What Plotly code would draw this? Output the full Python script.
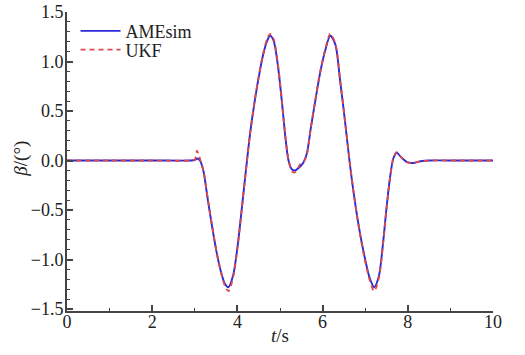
import plotly.graph_objects as go

t_ame = [0, 1.0, 2.0, 2.9, 3.00, 3.06, 3.12, 3.20, 3.30, 3.40, 3.50, 3.60, 3.70, 3.79, 3.90, 4.00, 4.10, 4.20,
         4.30, 4.40, 4.50, 4.60, 4.70, 4.77, 4.85, 4.95, 5.05, 5.12, 5.20, 5.28, 5.35, 5.45, 5.55,
         5.63, 5.72, 5.82, 5.94, 6.06, 6.18, 6.30, 6.41, 6.53, 6.63, 6.74, 6.86, 6.98,
         7.10, 7.21, 7.32, 7.42, 7.50, 7.58, 7.66, 7.74, 7.85, 8.00, 8.12, 8.30, 8.50, 9.2, 10]
b_ame = [0, 0, 0, 0, 0.005, 0.02, 0.0, -0.10, -0.38, -0.65, -0.90, -1.10, -1.24, -1.28, -1.16, -0.88, -0.50, -0.10,
         0.28, 0.58, 0.84, 1.06, 1.21, 1.26, 1.21, 0.96, 0.57, 0.26, 0.0, -0.09, -0.10, -0.07, -0.02,
         0.07, 0.32, 0.58, 0.88, 1.11, 1.26, 1.17, 0.81, 0.38, 0.0, -0.36, -0.69, -0.96,
         -1.18, -1.28, -1.17, -0.83, -0.48, -0.18, 0.02, 0.078, 0.03, -0.02, -0.025, -0.008, 0, 0, 0]

t_ukf = [0, 1.0, 2.0, 2.9, 3.00, 3.05, 3.09, 3.14, 3.21, 3.31, 3.41, 3.51, 3.61, 3.71, 3.79, 3.90, 4.00, 4.10, 4.20,
         4.30, 4.40, 4.50, 4.60, 4.70, 4.77, 4.85, 4.95, 5.05, 5.12, 5.20, 5.28, 5.35, 5.41, 5.47, 5.55,
         5.63, 5.72, 5.82, 5.94, 6.06, 6.18, 6.30, 6.41, 6.53, 6.63, 6.74, 6.86, 6.98,
         7.10, 7.21, 7.32, 7.42, 7.50, 7.58, 7.66, 7.74, 7.85, 8.00, 8.12, 8.30, 8.50, 9.2, 10]
b_ukf = [0, 0, 0, 0, 0.01, 0.10, 0.06, -0.01, -0.12, -0.40, -0.67, -0.92, -1.12, -1.27, -1.32, -1.18, -0.89, -0.50, -0.10,
         0.28, 0.59, 0.85, 1.07, 1.23, 1.28, 1.23, 0.98, 0.58, 0.27, 0.01, -0.11, -0.12, -0.09, -0.04, -0.02,
         0.06, 0.32, 0.59, 0.89, 1.12, 1.28, 1.18, 0.82, 0.39, 0.01, -0.36, -0.70, -0.98,
         -1.20, -1.32, -1.19, -0.84, -0.49, -0.19, 0.02, 0.085, 0.03, -0.02, -0.025, -0.008, 0, 0, 0]

x_ticks = [0, 2, 4, 6, 8, 10]
y_ticks = [-1.5, -1.0, -0.5, 0.0, 0.5, 1.0, 1.5]
y_tick_text = ["\u22121.5", "\u22121.0", "\u22120.5", "0.0", "0.5", "1.0", "1.5"]

SERIF = "Times New Roman, Liberation Serif, serif"
TXT = "#222222"

fig = go.Figure()
fig.add_trace(go.Scatter(x=t_ame, y=b_ame, mode="lines", name="AMEsim", legend="legend",
                         line=dict(color="#2a2ad8", width=1.9, shape="spline", smoothing=0.8)))
fig.add_trace(go.Scatter(x=t_ukf, y=b_ukf, mode="lines", name="UKF", legend="legend2",
                         line=dict(color="#e04848", width=1.8, dash="5px,4px", shape="spline", smoothing=0.8)))

axis_common = dict(showline=True, linecolor="#444444", linewidth=2, showgrid=False, zeroline=False,
                   ticks="inside", ticklen=6, tickwidth=1.5, tickcolor="#444444", automargin=False,
                   tickfont=dict(family=SERIF, size=18, color=TXT))

fig.update_xaxes(range=[0, 10], tickvals=x_ticks, ticktext=[str(v) for v in x_ticks],
                 minor=dict(ticks="inside", ticklen=3, tickwidth=1.2, tickcolor="#444444", dtick=1),
                 ticklabelstandoff=-7,
                 **axis_common)
fig.update_yaxes(range=[-1.52, 1.5], tickvals=y_ticks, ticktext=y_tick_text,
                 minor=dict(ticks="inside", ticklen=3, tickwidth=1.2, tickcolor="#444444", dtick=0.1),
                 ticklabelstandoff=-2,
                 **axis_common)

fig.add_annotation(text="<i>t</i>/s", xref="paper", yref="paper", x=0.5, y=-0.082,
                   xanchor="center", yanchor="middle", showarrow=False,
                   font=dict(family=SERIF, size=19, color=TXT))
fig.add_annotation(text="<i>β</i>/(°)", xref="paper", yref="paper", x=-0.110, y=0.51,
                   xanchor="center", yanchor="middle", showarrow=False, textangle=-90,
                   font=dict(family=SERIF, size=19, color=TXT))

leg_common = dict(xanchor="left", yanchor="middle", bgcolor="rgba(0,0,0,0)",
                  font=dict(family=SERIF, size=18, color=TXT), itemwidth=40)

fig.update_layout(width=525, height=355, margin=dict(l=67, r=32, t=12, b=44, autoexpand=False),
                  paper_bgcolor="white", plot_bgcolor="white",
                  legend=dict(x=0.02, y=0.936, **leg_common),
                  legend2=dict(x=0.02, y=0.873, **leg_common),
                  showlegend=True)

fig.write_html("out.html")
